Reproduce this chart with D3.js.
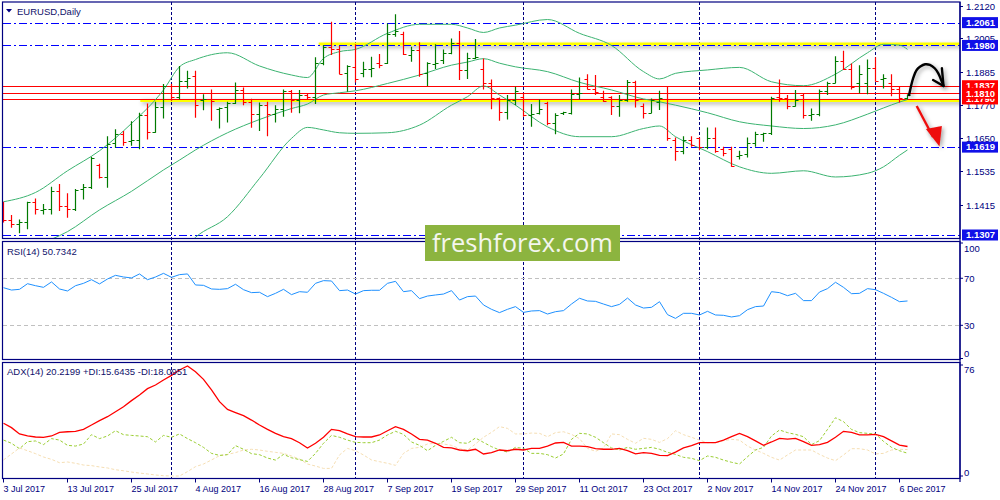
<!DOCTYPE html>
<html>
<head>
<meta charset="utf-8">
<title>EURUSD Daily</title>
<script src="https://cdn.jsdelivr.net/npm/d3@7"></script>
<style>
  body { margin: 0; background: #ffffff; }
  svg { display: block; font-family: "Liberation Sans", Arial, sans-serif; }
</style>
</head>
<body>
<svg id="chart" width="1000" height="500"></svg>
<script>
// daily bars, 3 Jul 2017 .. 7 Dec 2017
var open = [1.1422,1.1362,1.1346,1.1354,1.1423,1.1396,1.1400,1.1464,1.1410,1.1398,
  1.1470,1.1476,1.1556,1.1512,1.1632,1.1664,1.1640,1.1646,1.1733,1.1674,
  1.1762,1.1836,1.1798,1.1852,1.1871,1.1788,1.1791,1.1754,1.1762,1.1777,
  1.1822,1.1780,1.1735,1.1768,1.1735,1.1756,1.1819,1.1788,1.1804,1.1798,
  1.1919,1.1975,1.1969,1.1883,1.1905,1.1883,1.1896,1.1916,1.1916,1.2019,
  1.2019,1.1946,1.1963,1.1883,1.1914,1.1930,1.1954,1.1990,1.1893,1.1934,
  1.1896,1.1845,1.1792,1.1742,1.1786,1.1798,1.1733,1.1741,1.1777,1.1706,
  1.1739,1.1739,1.1807,1.1860,1.1827,1.1798,1.1798,1.1765,1.1788,1.1851,
  1.1765,1.1741,1.1780,1.1835,1.1646,1.1606,1.1646,1.1650,1.1620,1.1653,
  1.1611,1.1611,1.1587,1.1595,1.1635,1.1665,1.1668,1.1798,1.1795,1.1765,
  1.1804,1.1733,1.1738,1.1819,1.1848,1.1926,1.1896,1.1848,1.1848,1.1899,
  1.1860,1.1845,1.1827,1.1792];
var high = [1.1425,1.1378,1.1362,1.1425,1.1437,1.1417,1.1478,1.1488,1.1455,1.1470,
  1.1488,1.1585,1.1560,1.1658,1.1682,1.1676,1.1711,1.1741,1.1774,1.1780,
  1.1843,1.1843,1.1907,1.1890,1.1890,1.1807,1.1824,1.1760,1.1780,1.1848,
  1.1831,1.1791,1.1777,1.1780,1.1768,1.1824,1.1822,1.1822,1.1810,1.1938,
  1.1981,1.2064,1.1978,1.1910,1.1984,1.1922,1.1940,1.1950,1.2058,1.2091,
  1.2029,1.1975,1.1991,1.1920,1.1984,1.1966,1.2005,1.2031,1.1954,1.2003,
  1.1934,1.1859,1.1795,1.1804,1.1833,1.1812,1.1772,1.1788,1.1780,1.1739,
  1.1745,1.1824,1.1866,1.1878,1.1875,1.1819,1.1800,1.1804,1.1857,1.1855,
  1.1774,1.1792,1.1819,1.1836,1.1653,1.1658,1.1658,1.1653,1.1689,1.1689,
  1.1620,1.1620,1.1606,1.1653,1.1674,1.1670,1.1798,1.1859,1.1804,1.1822,
  1.1810,1.1756,1.1824,1.1851,1.1942,1.1961,1.1916,1.1910,1.1930,1.1938,
  1.1878,1.1878,1.1836,1.1807];
var low = [1.1351,1.1333,1.1313,1.1327,1.1380,1.1380,1.1380,1.1392,1.1368,1.1392,
  1.1433,1.1470,1.1508,1.1475,1.1617,1.1624,1.1624,1.1611,1.1646,1.1670,
  1.1721,1.1784,1.1788,1.1827,1.1723,1.1750,1.1713,1.1685,1.1706,1.1772,
  1.1768,1.1688,1.1676,1.1658,1.1706,1.1727,1.1741,1.1739,1.1788,1.1772,
  1.1910,1.1946,1.1878,1.1816,1.1848,1.1867,1.1867,1.1899,1.1914,1.2011,
  1.1946,1.1922,1.1869,1.1836,1.1896,1.1914,1.1949,1.1857,1.1861,1.1932,
  1.1824,1.1753,1.1713,1.1717,1.1768,1.1727,1.1691,1.1735,1.1697,1.1665,
  1.1733,1.1735,1.1788,1.1824,1.1804,1.1780,1.1733,1.1727,1.1780,1.1760,
  1.1721,1.1739,1.1751,1.1642,1.1571,1.1594,1.1620,1.1608,1.1611,1.1599,
  1.1587,1.1549,1.1575,1.1582,1.1620,1.1638,1.1662,1.1780,1.1753,1.1763,
  1.1721,1.1713,1.1729,1.1804,1.1846,1.1893,1.1824,1.1810,1.1807,1.1852,
  1.1827,1.1800,1.1777,1.1788];
var close = [1.1362,1.1346,1.1354,1.1423,1.1398,1.1400,1.1464,1.1410,1.1398,1.1468,
  1.1476,1.1582,1.1512,1.1630,1.1664,1.1638,1.1646,1.1733,1.1674,1.1762,
  1.1836,1.1798,1.1852,1.1866,1.1768,1.1791,1.1784,1.1758,1.1777,1.1822,
  1.1780,1.1735,1.1768,1.1735,1.1756,1.1819,1.1788,1.1804,1.1798,1.1919,
  1.1975,1.1969,1.1880,1.1907,1.1860,1.1898,1.1900,1.1912,1.2019,1.2032,
  1.1949,1.1963,1.1878,1.1916,1.1918,1.1954,1.1990,1.1893,1.1934,1.1938,
  1.1845,1.1792,1.1742,1.1786,1.1819,1.1733,1.1738,1.1756,1.1706,1.1733,
  1.1743,1.1807,1.1810,1.1827,1.1816,1.1784,1.1765,1.1788,1.1851,1.1788,
  1.1741,1.1786,1.1792,1.1650,1.1606,1.1646,1.1626,1.1620,1.1653,1.1606,
  1.1597,1.1552,1.1591,1.1635,1.1665,1.1668,1.1792,1.1795,1.1765,1.1788,
  1.1733,1.1738,1.1819,1.1848,1.1926,1.1896,1.1831,1.1878,1.1899,1.1855,
  1.1863,1.1824,1.1792,1.1804];

// Bollinger bands read at these bars
var bbIdx = [0,4,8,12,16,20,22,24,28,32,36,38,40,42,44,48,52,56,58,60,62,64,68,72,76,80,82,84,88,92,96,100,104,108,110,112,113];
var bbUpper = [1.1425,1.1458,1.1535,1.1606,1.1703,1.1822,1.1904,1.1930,1.1954,1.1907,1.1875,1.1866,1.1934,1.1958,1.1966,1.2023,1.2055,1.2055,1.2042,1.2026,1.2042,1.2052,1.2072,1.2023,1.1980,1.1887,1.1861,1.1881,1.1893,1.1902,1.1851,1.1837,1.1878,1.1954,1.1984,1.1981,1.1966];
var bbMid = [1.1242,1.1271,1.1319,1.1396,1.1462,1.1538,1.1573,1.1609,1.1670,1.1717,1.1756,1.1772,1.1804,1.1812,1.1819,1.1845,1.1875,1.1910,1.1921,1.1933,1.1917,1.1904,1.1887,1.1849,1.1822,1.1790,1.1780,1.1768,1.1741,1.1709,1.1694,1.1685,1.1698,1.1736,1.1758,1.1779,1.1788];
var bbLower = [1.1059,1.1084,1.1103,1.1186,1.1221,1.1254,1.1242,1.1299,1.1372,1.1508,1.1650,1.1689,1.1680,1.1670,1.1668,1.1670,1.1697,1.1768,1.1798,1.1836,1.1804,1.1768,1.1691,1.1656,1.1656,1.1685,1.1694,1.1656,1.1603,1.1549,1.1526,1.1535,1.1513,1.1526,1.1549,1.1590,1.1609];

var rsi = [62.0,60.0,60.6,65.4,63.7,62.3,66.9,60.9,59.2,63.7,
  65.7,68.8,65.2,69.4,72.5,71.1,70.3,73.7,68.8,71.1,
  74.2,70.8,73.1,73.7,64.3,64.0,60.9,60.6,61.2,64.9,
  60.3,57.8,58.1,54.4,57.2,60.6,56.1,58.6,58.1,65.7,
  68.0,67.7,59.5,60.0,56.6,59.5,59.8,59.8,65.7,67.4,
  58.6,59.5,52.7,54.9,55.8,56.6,59.5,51.5,54.4,54.9,
  47.3,43.6,40.8,43.6,45.9,41.0,42.2,42.5,39.6,41.6,
  42.5,48.1,53.0,50.7,50.4,48.1,45.9,47.8,53.2,47.3,
  44.7,45.3,50.1,39.1,35.9,40.2,40.2,38.8,41.9,38.8,
  38.5,37.1,38.2,43.3,45.9,46.4,58.6,57.8,55.2,57.2,
  51.0,51.0,58.3,61.2,66.6,62.3,56.9,57.2,61.2,60.3,
  57.2,53.8,50.1,50.7];

var adx = [36.1,33.1,28.8,27.4,26.7,26.5,27.4,29.9,30.3,30.6,
  31.9,34.9,37.9,40.6,44.0,47.4,51.6,55.5,59.8,62.3,
  65.7,68.9,72.6,75.3,71.4,66.2,58.9,50.9,45.6,43.4,
  41.3,38.3,34.9,31.9,29.2,26.9,25.6,22.8,19.2,22.4,
  26.5,31.9,31.0,28.8,26.9,26.7,26.7,28.1,31.0,33.8,
  31.9,28.8,25.1,24.6,22.4,19.6,19.2,17.8,17.3,18.3,
  15.1,16.0,17.8,17.3,18.3,17.8,18.9,18.9,20.5,22.6,
  23.0,20.5,20.5,20.1,18.7,18.3,18.3,18.9,17.3,15.1,
  16.0,15.5,14.1,13.9,16.4,19.2,20.8,22.8,22.8,22.8,
  24.6,26.9,29.2,26.9,24.0,21.0,23.3,25.8,25.3,25.8,
  23.5,21.0,21.5,23.0,26.5,30.6,29.9,28.1,28.1,28.5,
  26.9,24.0,21.2,20.2];
var plusDI = [24.6,22.4,18.7,23.5,24.0,21.5,25.6,24.6,21.0,20.5,
  21.9,28.3,25.6,27.4,31.0,28.3,27.8,27.4,26.9,23.3,
  27.8,26.5,28.8,25.6,22.8,19.6,15.5,14.1,14.6,20.8,
  18.3,15.3,14.6,12.3,10.9,14.8,12.5,11.2,10.0,15.5,
  22.4,27.8,26.5,24.6,23.0,22.8,22.8,24.6,28.1,30.6,
  28.5,23.3,21.0,17.3,21.0,23.7,26.5,22.8,22.4,26.0,
  23.0,20.1,17.8,16.4,19.6,18.9,15.5,15.5,14.6,12.3,
  15.1,25.1,29.2,28.8,26.5,22.8,19.2,17.8,19.6,18.3,
  18.9,19.6,18.3,16.2,14.8,12.8,12.1,10.5,13.7,12.8,
  10.9,9.4,8.2,13.2,17.8,19.6,27.4,31.5,29.7,28.5,
  26.9,21.5,24.2,31.9,39.9,37.2,31.9,29.7,29.2,28.8,
  23.7,19.6,17.3,15.6];
var minusDI = [11.0,15.1,19.2,17.3,15.3,13.0,11.4,9.1,9.6,8.7,
  7.5,7.1,6.2,5.5,4.3,3.6,2.7,2.0,1.4,0.7,
  0.2,0.0,0.0,3.0,6.4,8.2,11.0,13.9,14.8,16.0,
  17.8,18.3,17.8,16.9,16.2,15.5,13.7,11.6,8.2,6.8,
  5.2,5.2,14.4,18.9,17.3,14.4,11.0,9.8,8.7,7.3,
  15.5,18.9,19.6,21.9,22.4,21.9,21.0,18.7,17.8,21.9,
  26.5,29.9,33.8,32.6,28.8,28.8,29.4,29.2,26.9,29.7,
  30.3,28.5,25.6,18.9,16.9,19.2,28.8,28.3,25.1,22.4,
  25.8,25.1,23.0,25.6,31.0,28.3,26.5,24.6,22.8,22.8,
  24.2,25.1,24.6,20.5,17.8,15.5,12.8,10.9,14.4,17.8,
  17.8,17.8,14.8,12.3,10.5,14.4,18.7,18.7,17.8,15.1,
  15.5,17.8,18.3,18.1];

var dateIdx = [0,8,16,24,32,40,48,56,64,72,80,88,96,104,112];
var dateLabels = ["3 Jul 2017","13 Jul 2017","25 Jul 2017","4 Aug 2017","16 Aug 2017",
  "28 Aug 2017","7 Sep 2017","19 Sep 2017","29 Sep 2017","11 Oct 2017",
  "23 Oct 2017","2 Nov 2017","14 Nov 2017","24 Nov 2017","6 Dec 2017"];
var monthStart = [21, 44, 65, 87, 109];

var priceTicks = [1.2120, 1.2005, 1.1885, 1.1770, 1.1650, 1.1535, 1.1415];
var blueLevels = [1.2061, 1.1980, 1.1619, 1.1307];
var redLevels = [1.1790, 1.1837, 1.1810];
var yellowLevels = [1.1980, 1.1790];
var yellowFrom = [39.4, 17.1];
var rsiLevels = [70, 30];
var rsiTicks = [100, 70, 30, 0];
var adxTicks = [76, 0];

// hand drawn forecast arrows, in [bar, price]
var upArrow = [[113.2,1.1804],[113.7,1.1863],[114.15,1.1893],[114.6,1.1905],[115.2,1.1913],[115.8,1.1911],[116.4,1.1899],[116.85,1.1881],[117.3,1.1851],[117.5,1.1836]];
var upArrowHead = [[116.2,1.1857],[117.5,1.1836],[117.3,1.1899]];
var downArrow = [[114.15,1.1765],[116.2,1.1655]];
var downArrowHead = [[115.3,1.1683],[117.3,1.1694],[117.0,1.1621]];

var svg = d3.select("#chart");
var navy = "#000080";
var axisX = 960;

var x = d3.scaleLinear().domain([0, 113]).range([3.5, 907.5]);
var yP = d3.scaleLinear().domain([1.1307, 1.2120]).range([235, 6]);
var yR = d3.scaleLinear().domain([0, 100]).range([360.6, 243]);
var yA = d3.scaleLinear().domain([0, 76]).range([476, 365]);

var panels = [
  { top: 2, bottom: 238.5 },
  { top: 241.5, bottom: 359.5 },
  { top: 362.5, bottom: 478.5 }
];

var defs = svg.append("defs");
panels.forEach(function (p, k) {
  defs.append("clipPath").attr("id", "clip" + k)
    .append("rect")
    .attr("x", 3).attr("y", p.top)
    .attr("width", axisX - 3).attr("height", p.bottom - p.top);
});

var flt = defs.append("filter").attr("id", "shadow")
  .attr("filterUnits", "userSpaceOnUse")
  .attr("x", 0).attr("y", 0).attr("width", 1000).attr("height", 500);
flt.append("feGaussianBlur").attr("in", "SourceAlpha").attr("stdDeviation", 2.2);
flt.append("feOffset").attr("dx", 1.5).attr("dy", 2).attr("result", "off");
flt.append("feFlood").attr("flood-color", "#000").attr("flood-opacity", 0.35);
flt.append("feComposite").attr("in2", "off").attr("operator", "in");
var mrg = flt.append("feMerge");
mrg.append("feMergeNode");
mrg.append("feMergeNode").attr("in", "SourceGraphic");

// month separators through all panels
svg.append("g").selectAll("line")
  .data(monthStart).join("line")
  .attr("x1", function (d) { return x(d); })
  .attr("x2", function (d) { return x(d); })
  .attr("y1", 2).attr("y2", 478.5)
  .attr("stroke", navy).attr("stroke-dasharray", "3,2");

// ---- main panel
var main = svg.append("g").attr("clip-path", "url(#clip0)");

main.selectAll(".yel")
  .data(yellowLevels).join("line")
  .attr("class", "yel")
  .attr("x1", function (d, i) { return x(yellowFrom[i]); })
  .attr("x2", axisX)
  .attr("y1", function (d, i) { return yP(d) + (i == 0 ? -1.5 : 1.5); })
  .attr("y2", function (d, i) { return yP(d) + (i == 0 ? -1.5 : 1.5); })
  .attr("stroke", "#ffff00").attr("stroke-width", 3)
  .attr("filter", "url(#shadow)");

main.selectAll(".blue")
  .data(blueLevels).join("line")
  .attr("class", "blue")
  .attr("x1", 3).attr("x2", axisX)
  .attr("y1", function (d) { return Math.round(yP(d)) + 0.5; })
  .attr("y2", function (d) { return Math.round(yP(d)) + 0.5; })
  .attr("stroke", "#0000ff").attr("stroke-dasharray", "8,3,2,3");

main.selectAll(".red")
  .data(redLevels).join("line")
  .attr("class", "red")
  .attr("x1", 3).attr("x2", axisX)
  .attr("y1", function (d) { return Math.round(yP(d)) + 0.5; })
  .attr("y2", function (d) { return Math.round(yP(d)) + 0.5; })
  .attr("stroke", "#ff0000").attr("stroke-width", 1.2);

var band = function (vals) {
  return d3.line()
    .x(function (d, i) { return x(bbIdx[i]); })
    .y(function (d) { return yP(d); })
    .curve(d3.curveMonotoneX)(vals);
};
main.selectAll(".bb")
  .data([bbUpper, bbMid, bbLower]).join("path")
  .attr("class", "bb")
  .attr("d", band)
  .attr("fill", "none").attr("stroke", "#3cb371").attr("stroke-width", 1);

var bars = main.selectAll(".bar")
  .data(d3.range(open.length)).join("g")
  .attr("class", "bar")
  .attr("stroke", function (i) { return close[i] >= open[i] ? "#007a00" : "#ff0000"; })
  .attr("stroke-width", 1.2);
bars.append("line")
  .attr("x1", function (i) { return x(i); }).attr("x2", function (i) { return x(i); })
  .attr("y1", function (i) { return yP(high[i]); })
  .attr("y2", function (i) { return yP(low[i]); });
bars.append("line")
  .attr("x1", function (i) { return x(i) - 3; }).attr("x2", function (i) { return x(i); })
  .attr("y1", function (i) { return Math.round(yP(open[i])) + 0.5; })
  .attr("y2", function (i) { return Math.round(yP(open[i])) + 0.5; });
bars.append("line")
  .attr("x1", function (i) { return x(i); }).attr("x2", function (i) { return x(i) + 3; })
  .attr("y1", function (i) { return Math.round(yP(close[i])) + 0.5; })
  .attr("y2", function (i) { return Math.round(yP(close[i])) + 0.5; });

// arrows
var pt = d3.line()
  .x(function (d) { return x(d[0]); })
  .y(function (d) { return yP(d[1]); });
svg.append("path")
  .attr("d", pt.curve(d3.curveCatmullRom)(upArrow))
  .attr("fill", "none").attr("stroke", "#000").attr("stroke-width", 2.4)
  .attr("stroke-linecap", "round").attr("filter", "url(#shadow)");
svg.append("path")
  .attr("d", d3.line().x(function (d) { return x(d[0]); }).y(function (d) { return yP(d[1]); })(upArrowHead))
  .attr("fill", "none").attr("stroke", "#000").attr("stroke-width", 2.4)
  .attr("stroke-linecap", "round").attr("stroke-linejoin", "round")
  .attr("filter", "url(#shadow)");
svg.append("path")
  .attr("d", d3.line().x(function (d) { return x(d[0]); }).y(function (d) { return yP(d[1]); })(downArrow))
  .attr("stroke", "#ee1111").attr("stroke-width", 2.4)
  .attr("filter", "url(#shadow)");
svg.append("path")
  .attr("d", d3.line().x(function (d) { return x(d[0]); }).y(function (d) { return yP(d[1]); })(downArrowHead) + "Z")
  .attr("fill", "#ee1111").attr("filter", "url(#shadow)");

// ---- RSI panel
var pr = svg.append("g").attr("clip-path", "url(#clip1)");
pr.selectAll("line")
  .data(rsiLevels).join("line")
  .attr("x1", 3).attr("x2", axisX)
  .attr("y1", function (d) { return Math.round(yR(d)) + 0.5; })
  .attr("y2", function (d) { return Math.round(yR(d)) + 0.5; })
  .attr("stroke", "#c0c0c0").attr("stroke-dasharray", "4,3");
pr.append("path")
  .attr("d", d3.line().x(function (d, i) { return x(i); }).y(function (d) { return yR(d); })(rsi))
  .attr("fill", "none").attr("stroke", "#1e90ff").attr("stroke-width", 1);

// ---- ADX panel
var pa = svg.append("g").attr("clip-path", "url(#clip2)");
var adxLine = d3.line().x(function (d, i) { return x(i); }).y(function (d) { return yA(d); });
pa.append("path").attr("d", adxLine(minusDI))
  .attr("fill", "none").attr("stroke", "#f5deb3").attr("stroke-dasharray", "3,2");
pa.append("path").attr("d", adxLine(plusDI))
  .attr("fill", "none").attr("stroke", "#9acd32").attr("stroke-dasharray", "3,2");
pa.append("path").attr("d", adxLine(adx))
  .attr("fill", "none").attr("stroke", "#ff0000").attr("stroke-width", 1.3);

// ---- frames
panels.forEach(function (p) {
  svg.append("rect")
    .attr("x", 2.5).attr("y", p.top)
    .attr("width", axisX - 2.5).attr("height", p.bottom - p.top)
    .attr("fill", "none").attr("stroke", navy).attr("stroke-width", 1.2);
});
svg.append("line")
  .attr("x1", axisX).attr("x2", axisX).attr("y1", 2).attr("y2", 482)
  .attr("stroke", navy).attr("stroke-width", 1.2);

// ---- right axis, price
var ra = svg.append("g").attr("font-size", 9.5);
ra.selectAll(".pt")
  .data(priceTicks).join("g").attr("class", "pt")
  .each(function (d) {
    var g = d3.select(this), yy = Math.round(yP(d)) + 0.5;
    g.append("line").attr("x1", axisX).attr("x2", axisX + 3)
      .attr("y1", yy).attr("y2", yy).attr("stroke", navy);
    g.append("text").attr("x", 966).attr("y", yy).attr("dy", "0.35em")
      .attr("fill", navy).text(d3.format(".4f")(d));
  });

var boxed = blueLevels.map(function (v) { return { v: v, c: "#1010e8" }; })
  .concat(redLevels.map(function (v) { return { v: v, c: "#ff0000" }; }));
ra.selectAll(".bx")
  .data(boxed).join("g").attr("class", "bx")
  .each(function (d) {
    var g = d3.select(this), yy = yP(d.v);
    g.append("rect").attr("x", 962).attr("y", yy - 5.5)
      .attr("width", 36).attr("height", 11).attr("fill", d.c);
    g.append("text").attr("x", 966).attr("y", yy).attr("dy", "0.35em")
      .attr("fill", "#ffffff").attr("font-weight", "bold").text(d3.format(".4f")(d.v));
  });

// RSI and ADX scales
function sideLabels(ticks, sc, p) {
  ra.selectAll(null)
    .data(ticks).join("text")
    .attr("x", 964)
    .attr("y", function (d) { return Math.max(p.top + 7, Math.min(p.bottom - 6, sc(d))); })
    .attr("dy", "0.35em").attr("fill", navy)
    .text(function (d) { return d; });
  ra.selectAll(null)
    .data(ticks).join("line")
    .attr("x1", axisX).attr("x2", axisX + 3)
    .attr("y1", function (d) { return Math.max(p.top + 1, Math.min(p.bottom - 1, sc(d))); })
    .attr("y2", function (d) { return Math.max(p.top + 1, Math.min(p.bottom - 1, sc(d))); })
    .attr("stroke", navy);
}
sideLabels(rsiTicks, yR, panels[1]);
sideLabels(adxTicks, yA, panels[2]);

// ---- dates
var xa = svg.append("g").attr("font-size", 9).attr("fill", navy);
xa.selectAll("line")
  .data(dateIdx).join("line")
  .attr("x1", function (d) { return x(d); }).attr("x2", function (d) { return x(d); })
  .attr("y1", 478.5).attr("y2", 482.5).attr("stroke", navy);
xa.selectAll("text")
  .data(dateIdx).join("text")
  .attr("x", function (d) { return x(d); })
  .attr("y", 492)
  .text(function (d, i) { return dateLabels[i]; });

// ---- captions
svg.append("path").attr("d", "M6,9 L12,9 L9,12.5 Z").attr("fill", navy);
var cap = svg.append("g").attr("font-size", 9.5).attr("fill", "#10106a");
cap.append("text").attr("x", 17).attr("y", 14.5).text("EURUSD,Daily");
cap.append("text").attr("x", 7).attr("y", 255).text("RSI(14) 50.7342");
cap.append("text").attr("x", 7).attr("y", 375).text("ADX(14) 20.2199 +DI:15.6435 -DI:18.0951");

// ---- watermark
svg.append("rect").attr("x", 425).attr("y", 225).attr("width", 195).attr("height", 36)
  .attr("fill", "#8cb43f");
svg.append("text").attr("x", 522.5).attr("y", 252)
  .attr("text-anchor", "middle")
  .attr("font-family", "'Open Sans', sans-serif").attr("font-size", 25.5)
  .attr("fill", "#f4f6ee").text("freshforex.com");
</script>
</body>
</html>
